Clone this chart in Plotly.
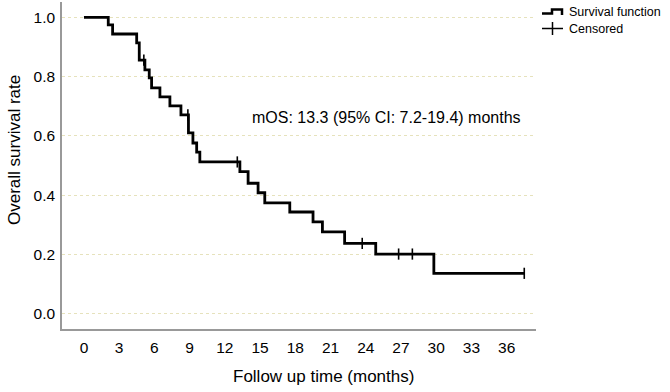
import plotly.graph_objects as go

# ---- data ----
event_times = [0, 2.07, 2.44, 4.49, 4.71, 5.19, 5.56, 5.76, 6.47, 7.32, 8.26, 8.9, 9.28, 9.6,
               9.87, 13.28, 13.98, 14.83, 15.4, 17.53, 19.51, 20.31, 22.2, 24.85, 29.8]
survival = [1.0, 0.975, 0.944, 0.914, 0.856, 0.823, 0.796, 0.762, 0.732, 0.701, 0.671, 0.61,
             0.576, 0.545, 0.512, 0.479, 0.44, 0.408, 0.374, 0.343, 0.31, 0.276, 0.237, 0.201, 0.136]
censor_times = [5.1, 8.85, 13.06, 23.7, 26.8, 27.97, 37.5]
censor_surv = [0.856, 0.671, 0.512, 0.237, 0.201, 0.201, 0.136]
x_ticks = [0, 3, 6, 9, 12, 15, 18, 21, 24, 27, 30, 33, 36]
y_ticks = [0.0, 0.2, 0.4, 0.6, 0.8, 1.0]
annotation_text = "mOS: 13.3 (95% CI: 7.2-19.4) months"
legend_labels = ["Survival function", "Censored"]
x_title = "Follow up time (months)"
y_title = "Overall survival rate"

FONT = "Liberation Sans, Arial, Helvetica, sans-serif"
W, H = 670, 392
L, R, T, B = 62, 134, 2, 63
PW, PH = W - L - R, H - T - B


def px(x):
    return (x - L) / PW


def py(y):
    return (H - B - y) / PH


line_x = event_times + [censor_times[-1]]
line_y = survival + [survival[-1]]

fig = go.Figure()
fig.add_trace(go.Scatter(x=line_x, y=line_y, mode="lines", line_shape="hv",
                         line=dict(color="black", width=2.8), showlegend=False,
                         hoverinfo="skip"))
fig.add_trace(go.Scatter(x=censor_times, y=censor_surv, mode="markers",
                         marker=dict(symbol="line-ns", size=8,
                                     line=dict(color="black", width=1.6)),
                         showlegend=False))

shapes = []
# legend icon: step
shapes.append(dict(type="path", xref="paper", yref="paper",
                   path=f"M {px(542)} {py(13.5)} L {px(552)} {py(13.5)} L {px(552)} {py(9.5)} "
                        f"L {px(562)} {py(9.5)} L {px(562)} {py(15)}",
                   line=dict(color="black", width=2.5)))
# legend icon: plus
shapes.append(dict(type="line", xref="paper", yref="paper",
                   x0=px(542), x1=px(563), y0=py(28.5), y1=py(28.5),
                   line=dict(color="black", width=1.5)))
shapes.append(dict(type="line", xref="paper", yref="paper",
                   x0=px(552.5), x1=px(552.5), y0=py(22), y1=py(35),
                   line=dict(color="black", width=1.5)))

annotations = [
    dict(x=14.1, y=0.663, xref="x", yref="y", text=annotation_text, showarrow=False,
         xanchor="left", yanchor="middle", font=dict(size=16, color="black", family=FONT)),
    dict(x=px(567), y=py(11.5), xref="paper", yref="paper", text=legend_labels[0],
         showarrow=False, xanchor="left", yanchor="middle",
         font=dict(size=12.5, color="black", family=FONT)),
    dict(x=px(567), y=py(28.5), xref="paper", yref="paper", text=legend_labels[1],
         showarrow=False, xanchor="left", yanchor="middle",
         font=dict(size=12.5, color="black", family=FONT)),
    dict(x=px(323), y=py(376), xref="paper", yref="paper", text=x_title,
         showarrow=False, xanchor="center", yanchor="middle",
         font=dict(size=17, color="black", family=FONT)),
    dict(x=px(14), y=py(150), xref="paper", yref="paper", text=y_title, textangle=-90,
         showarrow=False, xanchor="center", yanchor="middle",
         font=dict(size=17, color="black", family=FONT)),
]

fig.update_layout(
    width=W, height=H,
    margin=dict(l=L, r=R, t=T, b=B, autoexpand=False),
    paper_bgcolor="white", plot_bgcolor="white",
    font=dict(family=FONT, color="black", size=15),
    shapes=shapes, annotations=annotations,
    showlegend=False,
)
fig.update_xaxes(range=[-1.87, 38.5], tickvals=x_ticks, ticktext=[str(v) for v in x_ticks],
                 showgrid=False, zeroline=False, showline=True, linecolor="#999999",
                 linewidth=1.5, ticks="", ticklabelstandoff=4,
                 tickfont=dict(size=15.5))
fig.update_yaxes(range=[-0.052, 1.052], tickvals=y_ticks, ticktext=[f"{v:.1f}" for v in y_ticks],
                 showgrid=True, gridcolor="#e6e2bc", griddash="dot", gridwidth=1,
                 zeroline=False, showline=True, linecolor="#999999", linewidth=1.5,
                 ticks="", ticklabelstandoff=2, tickfont=dict(size=15.5))

fig.write_html("out.html", config={"displayModeBar": False},
               post_script="document.body.style.margin='0';")
